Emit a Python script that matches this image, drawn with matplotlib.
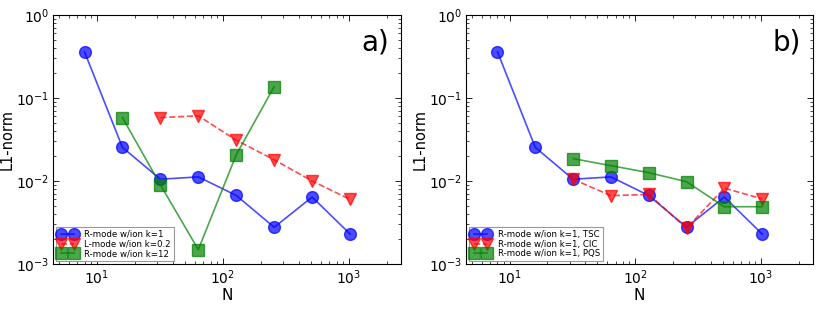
import matplotlib
matplotlib.use("Agg")
import matplotlib.pyplot as plt

N = [8, 16, 32, 64, 128, 256, 512, 1024]

# panel a)
a_rmode_k1 = [0.36, 0.0254, 0.0105, 0.0112, 0.0067, 0.00277, 0.0064, 0.0023]
a_lmode_N = [32, 64, 128, 256, 512, 1024]
a_lmode_k02 = [0.058, 0.061, 0.031, 0.018, 0.010, 0.006]
a_rmode_k12_N = [16, 32, 64, 128, 256]
a_rmode_k12 = [0.058, 0.0090, 0.00149, 0.0207, 0.137]

# panel b)
b_tsc = a_rmode_k1
b_cic_N = [32, 64, 128, 256, 512, 1024]
b_cic = [0.0105, 0.00665, 0.0069, 0.0027, 0.0082, 0.0061]
b_pqs_N = [32, 64, 128, 256, 512, 1024]
b_pqs = [0.0186, 0.0153, 0.0126, 0.0098, 0.0049, 0.0049]

labels_a = ["R-mode w/ion k=1", "L-mode w/ion k=0.2", "R-mode w/ion k=12"]
labels_b = ["R-mode w/ion k=1, TSC", "R-mode w/ion k=1, CIC", "R-mode w/ion k=1, PQS"]

plt.rcParams["font.family"] = "DejaVu Sans"
plt.rcParams["mathtext.default"] = "regular"

fig = plt.figure(figsize=(8.22, 3.09), dpi=100)
fig.patch.set_facecolor("white")
ax_a = fig.add_axes([0.0645, 0.1456, 0.4234, 0.806])
ax_b = fig.add_axes([0.567, 0.1456, 0.422, 0.806])

ms = 8.5
alpha = 0.7


def style_axis(ax, tag):
    ax.set_xscale("log")
    ax.set_yscale("log")
    ax.set_xlim(4.5, 2600)
    ax.set_ylim(1e-3, 1)
    ax.tick_params(which="both", direction="in", top=True, right=True, labelsize=10, pad=3)
    ax.tick_params(which="major", length=4, width=0.6)
    ax.tick_params(which="minor", length=2, width=0.5)
    for sp in ax.spines.values():
        sp.set_linewidth(0.8)
    ax.set_xlabel("N", fontsize=11, labelpad=1)
    ax.set_ylabel("L1-norm", fontsize=10.5, labelpad=1)
    ax.text(0.965, 0.89, tag, transform=ax.transAxes, ha="right", va="center", fontsize=20)


ax_a.plot(N, a_rmode_k1, "b-o", ms=ms, mec="b", alpha=alpha, lw=1.2, label=labels_a[0])
ax_a.plot(a_lmode_N, a_lmode_k02, "r--v", ms=ms, mec="r", alpha=alpha, lw=1.2, label=labels_a[1])
ax_a.plot(a_rmode_k12_N, a_rmode_k12, "g-s", ms=ms, mec="g", alpha=alpha, lw=1.2, label=labels_a[2])
style_axis(ax_a, "a)")

ax_b.plot(N, b_tsc, "b-o", ms=ms, mec="b", alpha=alpha, lw=1.2, label=labels_b[0])
ax_b.plot(b_cic_N, b_cic, "r--v", ms=ms, mec="r", alpha=alpha, lw=1.2, label=labels_b[1])
ax_b.plot(b_pqs_N, b_pqs, "g-s", ms=ms, mec="g", alpha=alpha, lw=1.2, label=labels_b[2])
style_axis(ax_b, "b)")

for ax in (ax_a, ax_b):
    leg = ax.legend(loc="lower left", numpoints=2, fontsize=6.2, fancybox=False,
                    handlelength=2.1, handletextpad=0.9, borderpad=0.35,
                    labelspacing=0.1, borderaxespad=0.3, framealpha=1)
    leg.get_frame().set_edgecolor("#999999")
    leg.get_frame().set_linewidth(0.8)

fig.savefig("out.png", dpi=100, facecolor="white")
